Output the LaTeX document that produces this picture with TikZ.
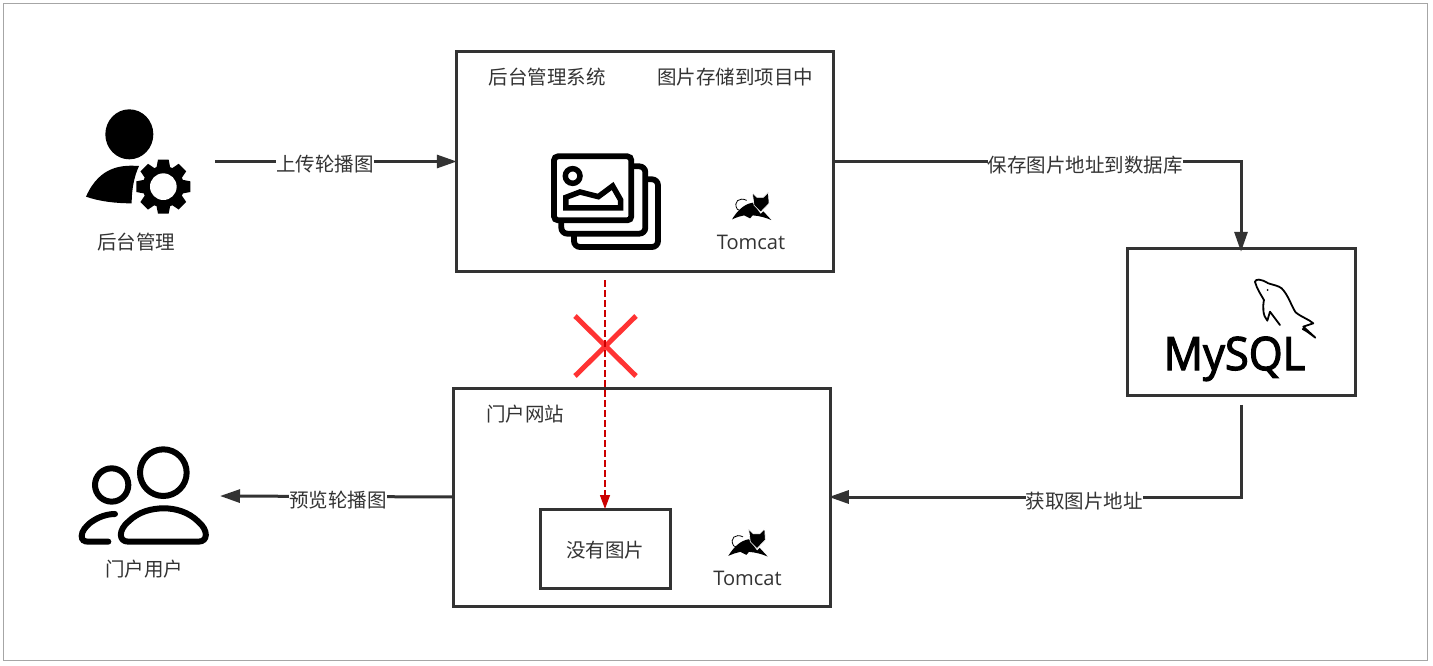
\documentclass[tikz,border=0pt]{standalone}
\usepackage{fontspec}
\setmainfont{Noto Sans CJK SC}
\newfontfamily\latinfont{Open Sans}
\newfontfamily\logofont[FakeBold=2.5,FakeStretch=0.945]{Open Sans}
\usetikzlibrary{arrows.meta}
\definecolor{ink}{HTML}{333333}
\definecolor{redline}{HTML}{CC0000}
\definecolor{redx}{HTML}{FF3333}
\tikzset{
  boxnode/.style={draw=ink,line width=3pt,fill=white,inner sep=0pt,outer sep=0pt,rectangle},
  txt/.style={text=ink,inner sep=0pt,outer sep=0pt,font=\fontsize{19.5}{22}\selectfont},
  lab/.style={txt,fill=white,inner xsep=0pt,inner ysep=1pt},
  tom/.style={text=ink,inner sep=0pt,outer sep=0pt,font=\latinfont\fontsize{20.1}{22}\selectfont},
  conn/.style={draw=ink,line width=3pt,-{Triangle[length=20pt,width=13pt]}},
  redconn/.style={draw=redline,line width=1.3pt,dash pattern=on 7pt off 3pt,-{Triangle[length=14pt,width=10pt,fill=redline]}},
  zoomcoords/.style={x=0.33333pt,y=-0.33333pt},
  pics/tomcat/.style={code={
    \begin{scope}[zoomcoords,shift={(-665,-200)}]
      \fill[black] (606,238) .. controls (620,215) and (640,192) .. (668,188) -- (692,222) -- (700,214) -- (724,240)
        .. controls (705,232) and (690,228) .. (668,226)
        -- (660,235) -- (642,226) .. controls (630,228) and (620,232) .. (606,238) -- cycle;
      \fill[black,draw=white,line width=0.6pt] (667,158) -- (681,172) -- (700,172) -- (715,157)
        -- (717,190) -- (692,216) -- (672,196) -- cycle;
      \draw[black,line width=0.8pt] (650,181) .. controls (628,170) and (608,185) .. (622,208) -- (632,212);
    \end{scope}
  }}
}
\begin{document}
\begin{tikzpicture}[x=1pt,y=-1pt]
\useasboundingbox (0,0) rectangle (1433,666);
\fill[white] (0,0) rectangle (1433,666);
\draw[draw=black!35,line width=0.9pt] (3,3) rectangle (1427,660);

% boxes
\node[boxnode,minimum width=377pt,minimum height=219pt] (back) at (645.3,161.5) {};
\node[boxnode,minimum width=228pt,minimum height=147pt] (db) at (1241,322.3) {};
\node[boxnode,minimum width=377pt,minimum height=218pt] (portal) at (642.3,497) {};
\node[boxnode,minimum width=130pt,minimum height=79pt] (nopic) at (605,548.5) {};

% free ends
\coordinate (adminout) at (215,161.5);
\coordinate (userin) at (220,496);
\coordinate (dashstart) at (605,280);

% red cross, under the dashed connector
\draw[redx,line width=5pt] (575,316) -- (636,376) (636,316) -- (575,376);

% connectors
\draw[conn] (adminout) -- (back.west);
\draw[conn,shorten <=1.5pt,shorten >=-3pt] (back.east) -| (db.north);
\draw[conn,shorten <=9pt,shorten >=-2pt] (db.south) |- (portal.east);
\draw[conn] (portal.west) -- (userin);
\draw[redconn] (dashstart) -- (nopic.north);

% connector labels
\node[lab] (l1) at (325,164.5) {上传轮播图};
\node[lab] (l2) at (1085,165) {保存图片地址到数据库};
\node[lab] (l3) at (1084,501) {获取图片地址};
\node[lab] (l4) at (338,500) {预览轮播图};

% text
\node[txt] (t1) at (547,77) {后台管理系统};
\node[txt] (t2) at (735,77) {图片存储到项目中};
\node[txt] (t3) at (525,414) {门户网站};
\node[txt] (t4) at (605,550) {没有图片};
\node[txt] (t5) at (136,242) {后台管理};
\node[txt] (t6) at (144,569) {门户用户};
\node[tom] (c1) at (751,242.5) {Tomcat};
\node[tom] (c2) at (747.5,578.5) {Tomcat};

% tomcat logos
\pic at (751.7,206.7) {tomcat};
\pic at (748,543.2) {tomcat};

% admin icon
\begin{scope}[zoomcoords,shift={(180,270)}]
  \fill[black] (208,133) ellipse [x radius=72,y radius=75];
  \fill[black] (237,228) .. controls (190,225) and (120,225) .. (78,320)
     .. controls (120,335) and (170,340) .. (215,340)
     .. controls (215,300) and (222,260) .. (237,228) -- cycle;
  \foreach \a in {0,45,...,315}{
    \fill[black,rotate around={\a:(310,290)}] (288,240) -- (294,209) -- (326,209) -- (332,240) -- cycle;
  }
  \fill[black] (310,290) circle [radius=62];
  \fill[white] (310,290) circle [radius=40];
\end{scope}

% pictures icon
\begin{scope}[zoomcoords,shift={(1590,420)}]
  \draw[black,fill=white,line width=5.8pt,rounded corners=6pt] (132,118) rectangle (384,321);
  \draw[black,fill=white,line width=5.8pt,rounded corners=6pt] (94,79) rectangle (346,281);
  \draw[black,fill=white,line width=5.8pt,rounded corners=4pt] (72,49) rectangle (304,241);
  \draw[black,line width=5.5pt] (128,108) circle [radius=22];
  \draw[black,line width=5.5pt,line join=miter] (108,172) -- (150,156) -- (205,170) -- (248,138) -- (272,180) -- (272,204) -- (108,204) -- cycle;
\end{scope}

% mysql
\begin{scope}[zoomcoords,shift={(3390,765)}]
  \draw[black,line width=1.8pt,line join=round,line cap=round] (375,80) .. controls (378,72) and (390,70) .. (415,85)
    .. controls (430,90) and (445,92) .. (455,100) .. controls (475,120) and (485,155) .. (497,172) .. controls (515,187) and (535,192) .. (550,205)
    -- (520,215) -- (556,248) .. controls (540,236) and (530,228) .. (518,222);
  \draw[black,line width=1.8pt,line join=round,line cap=round] (375,80) .. controls (380,100) and (392,118) .. (402,135) .. controls (398,155) and (398,182) .. (412,197) -- (420,170) -- (450,210);
  \fill[black] (413,105) circle [radius=3];
\end{scope}
\node[inner sep=0pt,outer sep=0pt,text=black,anchor=base,font=\logofont\fontsize{46}{50}\selectfont] (mysql) at (1234.5,370) {MySQL};

% portal user icon
\begin{scope}[zoomcoords,shift={(180,1290)}]
  \draw[black,line width=6pt] (310,128) circle [radius=70];
  \draw[black,line width=6pt] (155,165) circle [radius=50];
  \draw[black,line width=6pt,line cap=round] (165,252) .. controls (115,252) and (65,290) .. (65,318)
     .. controls (65,330) and (72,335) .. (85,335) -- (145,335);
  \draw[black,line width=6pt,line join=round] (205,335) -- (415,335)
     .. controls (445,335) and (445,300) .. (415,275) .. controls (385,245) and (345,235) .. (312,235)
     .. controls (275,235) and (235,245) .. (205,275) .. controls (175,300) and (175,335) .. (205,335) -- cycle;
\end{scope}
\end{tikzpicture}
\end{document}
